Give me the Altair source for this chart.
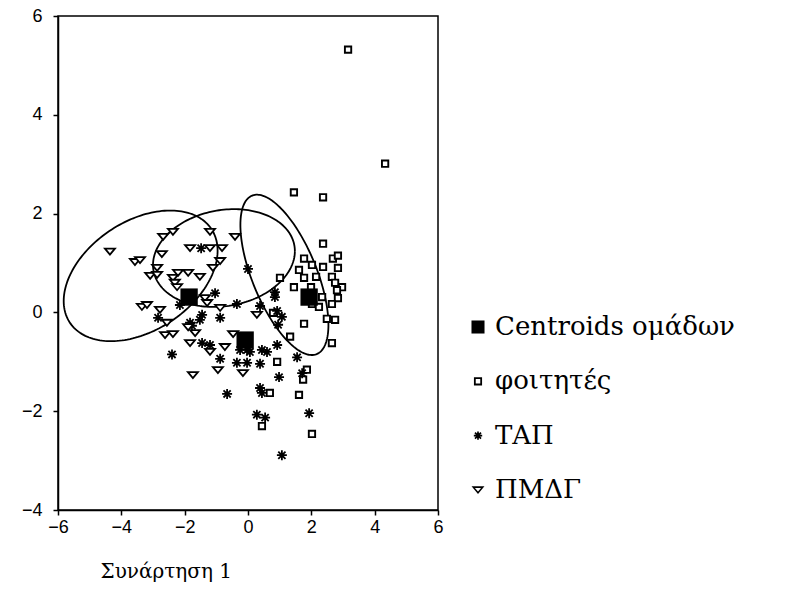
import altair as alt
import numpy as np
import pandas as pd

groups = ["Centroids ομάδων", "φοιτητές", "ΤΑΠ", "ΠΜΔΓ"]

# φοιτητές
f_x = [3.16, 4.33, 1.45, 2.37, 2.37, 1.77, 2.68, 2.84, 1.61, 2.02, 2.37, 2.84, 1.77, 2.15, 2.65,
       1.01, 1.45, 1.99, 2.75, 2.97, 2.81, 2.34, 2.02, 2.24, 2.84, 2.65, 0.79, 2.49, 2.75, 1.77,
       1.33, 2.65, 0.92, 1.86, 1.74, 0.69, 1.61, 0.44, 2.02]
f_y = [5.32, 3.01, 2.43, 2.33, 1.39, 1.09, 1.09, 1.15, 0.86, 0.96, 0.92, 0.90, 0.70, 0.72, 0.72,
       0.70, 0.51, 0.51, 0.60, 0.51, 0.45, 0.31, 0.17, 0.11, 0.29, 0.17, -0.01, -0.13, -0.15, -0.23,
       -0.49, -0.62, -1.00, -1.16, -1.36, -1.63, -1.67, -2.30, -2.46]

# ΤΑΠ
t_x = [-1.48, 0.00, -1.04, -0.35, 0.38, 0.85, 0.85, 0.92, 1.07, 0.95, -2.84, -1.45, -1.52, -0.88,
       -1.83, -1.77, -2.40, -1.45, -1.20, -0.03, 0.06, 0.44, 0.60, 0.92, -0.88, -0.35, -0.03, 0.38,
       0.98, 1.55, 1.71, -0.66, 0.38, 0.44, 0.28, 0.54, 1.93, 1.07, -0.25, -2.15]
t_y = [1.30, 0.88, 0.39, 0.17, 0.13, 0.41, 0.31, 0.03, -0.09, -0.25, -0.11, -0.05, -0.15, -0.11,
       -0.21, -0.27, -0.85, -0.62, -0.66, -0.76, -0.80, -0.76, -0.80, -0.66, -0.94, -1.02, -1.02, -1.04,
       -1.31, -0.91, -1.23, -1.65, -1.53, -1.63, -2.07, -2.13, -2.04, -2.89, -0.76, 0.15]

# ΠΜΔΓ
p_x = [-4.36, -3.57, -3.41, -2.68, -2.37, -1.20, -0.41, -1.83, -1.20, -0.82, -2.72, -0.88, -2.87,
       -3.09, -2.87, -2.21, -1.89, -1.52, -1.11, -2.37, -2.31, -2.24, -3.35, -3.19, -2.78, -2.56,
       -1.89, -1.67, -2.62, -2.37, -1.83, -1.36, -1.29, -0.88, 0.28, -1.20, -0.73, -0.47, -0.95,
       -1.74, -0.16]
p_y = [1.23, 1.02, 1.06, 1.53, 1.63, 1.63, 1.53, 1.30, 1.30, 1.30, 1.18, 1.04, 0.90, 0.74, 0.76,
       0.80, 0.80, 0.72, 0.90, 0.70, 0.60, 0.51, 0.11, 0.15, 0.05, -0.21, -0.30, -0.42, -0.46, -0.44,
       -0.62, 0.29, 0.19, 0.09, -0.05, -0.80, -0.70, -0.44, -1.17, -1.27, -1.23]

# group centroids
c_x = [-1.86, -0.09, 1.93]
c_y = [0.31, -0.56, 0.31]

# ellipses: centre x, centre y, x half-extent, y offset at x-extreme, conjugate y half-axis
ell_cx = [-3.39, -0.76, 1.15]
ell_cy = [0.74, 1.10, 0.76]
ell_ax = [2.43, 2.24, 1.39]
ell_ry = [0.51, 0.14, -1.01]
ell_by = [1.22, 0.98, 1.27]

x_ticks = [-6, -4, -2, 0, 2, 4, 6]
y_ticks = [-4, -2, 0, 2, 4, 6]

f_df = pd.DataFrame({"x": f_x, "y": f_y})
t_df = pd.DataFrame({"x": t_x, "y": t_y})
p_df = pd.DataFrame({"x": p_x, "y": p_y})
c_df = pd.DataFrame({"x": c_x, "y": c_y})

t = np.linspace(0, 2 * np.pi, 181)
rows = []
for k in range(3):
    for i, tt in enumerate(t):
        rows.append({"e": k, "i": i,
                     "x": ell_cx[k] + ell_ax[k] * np.cos(tt),
                     "y": ell_cy[k] + ell_ry[k] * np.cos(tt) + ell_by[k] * np.sin(tt)})
ell = pd.DataFrame(rows)

leg_df = pd.DataFrame({"label": groups, "row": [0, 1, 2, 3]})

ast = "M-1,0L1,0M0,-1L0,1M-0.72,-0.72L0.72,0.72M-0.72,0.72L0.72,-0.72"
tri = "M-1,-0.6L1,-0.6L0,0.6Z"

xs = alt.Scale(domain=[-6, 6], nice=False, zero=False)
ys = alt.Scale(domain=[-4, 6], nice=False, zero=False)
ls = alt.Scale(domain=[0, 3], range=[311, 474], nice=False, zero=False)

xaxis = alt.Axis(values=x_ticks, title="Συνάρτηση 1", grid=False, format="d",
                 labelFlush=False, labelOverlap=False, labelPadding=3,
                 titleX=42, titleY=67, titleAlign="left", titleBaseline="alphabetic",
                 titleFont="DejaVu Serif", titleFontSize=20, titleFontWeight="normal")
yaxis = alt.Axis(values=y_ticks, title=None, grid=False, format="d",
                 labelFlush=False, labelOverlap=False, labelPadding=11)

X = alt.X("x:Q", scale=xs, axis=xaxis)
Y = alt.Y("y:Q", scale=ys, axis=None)

ellipses = alt.Chart(ell).mark_line(color="black", strokeWidth=1.8).encode(
    x=X,
    y=alt.Y("y:Q", scale=ys, axis=yaxis),
    detail="e:N",
    order="i:Q",
)

f_layer = alt.Chart(f_df).mark_point(shape="square", filled=True, fill="white", stroke="black",
                                     strokeWidth=1.9, size=40, opacity=1).encode(x=X, y=Y)
t_layer = alt.Chart(t_df).mark_point(shape=ast, filled=False, stroke="black",
                                     strokeWidth=1.8, size=100, opacity=1).encode(x=X, y=Y)
p_layer = alt.Chart(p_df).mark_point(shape=tri, filled=True, fill="white", stroke="black",
                                     strokeWidth=1.8, size=100, opacity=1).encode(x=X, y=Y)
c_layer = alt.Chart(c_df).mark_point(shape="square", filled=True, color="black",
                                     size=300, opacity=1).encode(x=X, y=Y)

LY = alt.Y("row:Q", scale=ls, axis=None)
sym_x = alt.value(420)
base_leg = alt.Chart(leg_df)
leg_c = base_leg.transform_filter(alt.datum.row == 0).mark_point(
    shape="square", filled=True, color="black", size=170, opacity=1).encode(x=sym_x, y=LY)
leg_f = base_leg.transform_filter(alt.datum.row == 1).mark_point(
    shape="square", filled=True, fill="white", stroke="black", strokeWidth=1.8, size=40,
    opacity=1).encode(x=sym_x, y=LY)
leg_t = base_leg.transform_filter(alt.datum.row == 2).mark_point(
    shape=ast, filled=False, stroke="black", strokeWidth=1.7, size=70, opacity=1).encode(x=sym_x, y=LY)
leg_p = base_leg.transform_filter(alt.datum.row == 3).mark_point(
    shape=tri, filled=True, fill="white", stroke="black", strokeWidth=1.6, size=90,
    opacity=1).encode(x=sym_x, y=LY)
leg_text = base_leg.mark_text(align="left", baseline="middle", font="DejaVu Serif",
                              fontSize=26, color="black").encode(
    x=alt.value(437), y=LY, text="label:N")

chart = alt.layer(ellipses, f_layer, t_layer, p_layer, c_layer,
                  leg_c, leg_f, leg_t, leg_p, leg_text).resolve_scale(
    y="independent"
).properties(
    width=380, height=494,
    autosize=alt.AutoSizeParams(type="none"),
    padding={"left": 58, "top": 16, "right": 360, "bottom": 93},
    background="white",
).configure_view(stroke="black", strokeWidth=1.5).configure_axis(
    domainColor="black", domainWidth=1.5, tickColor="black", tickWidth=1.5, tickSize=5,
    labelFont="Liberation Sans", labelFontSize=18, labelColor="black", titleColor="black",
)

chart.save("out.html", embed_options={"renderer": "svg", "actions": False})
